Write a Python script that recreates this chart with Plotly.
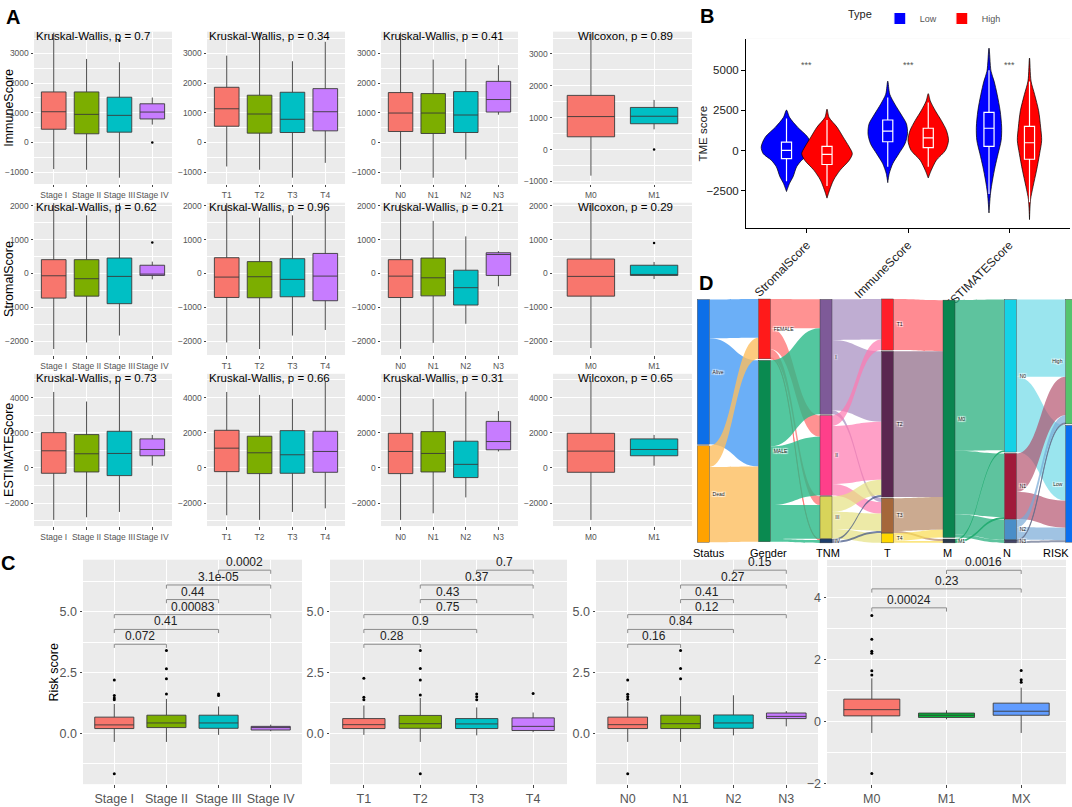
import plotly.graph_objects as go

W, H = 1072, 807
FONT = "Liberation Sans, Arial, sans-serif"

# ---------------- panel A : box summaries [lower whisker, q1, median, q3, upper whisker]
stage_cats = ["Stage I", "Stage II", "Stage III", "Stage IV"]
t_cats = ["T1", "T2", "T3", "T4"]
n_cats = ["N0", "N1", "N2", "N3"]
m_cats = ["M0", "M1"]

immune_stage = [[-900, 443, 1033, 1700, 3700], [-922, 290, 944, 1700, 2810],
                [-1190, 344, 911, 1522, 2700], [600, 789, 1022, 1300, 1511]]
immune_t = [[-811, 544, 1133, 1856, 2922], [-922, 311, 956, 1589, 3700],
            [-1190, 333, 778, 1689, 2733], [-689, 389, 1033, 1811, 3389]]
immune_n = [[-922, 367, 989, 1678, 3700], [-1190, 300, 989, 1644, 2789],
            [-578, 333, 922, 1711, 2810], [933, 1022, 1444, 2056, 2600]]
immune_m = [[-820, 400, 1035, 1700, 3650], [635, 810, 1045, 1322, 1557]]

stromal_stage = [[-2233, -728, -68, 408, 2080], [-2039, -670, -155, 408, 1718],
                 [-1835, -893, -87, 456, 2080], [-175, -58, -19, 243, 350]]
stromal_t = [[-2039, -709, -107, 466, 2080], [-2233, -718, -97, 350, 1650],
             [-1835, -689, -175, 437, 1718], [-1670, -806, -78, 592, 1845]]
stromal_n = [[-2227, -711, -79, 408, 2080], [-2052, -662, -128, 455, 1554],
             [-1487, -933, -420, 96, 1096], [-379, -58, 560, 612, 659]]
stromal_m = [[-2204, -670, -87, 427, 2080], [-165, -58, -29, 243, 340]]

estimate_stage = [[-2948, -300, 977, 2009, 4319], [-2798, -225, 808, 1897, 3775],
                  [-2498, -432, 826, 2085, 4940], [131, 695, 1052, 1653, 1878]]
estimate_t = [[-2685, -207, 1127, 2141, 4319], [-2948, -319, 864, 1803, 4150],
              [-2498, -300, 751, 2122, 3925], [-2291, -244, 939, 2085, 4920]]
estimate_n = [[-2948, -319, 939, 1972, 5030], [-2573, -225, 826, 2066, 3925],
              [-1671, -545, 207, 1521, 4338], [939, 1033, 1502, 2648, 3230]]
estimate_m = [[-2948, -244, 958, 1972, 4940], [131, 695, 1052, 1653, 1878]]

# outliers (category, value)
immune_stage_out = [("Stage III", 3420), ("Stage IV", 0)]
immune_m_out = [("M1", 0)]
stromal_stage_out = [("Stage IV", 913)]
stromal_m_out = [("M1", 903)]

immune_tests = ["Kruskal-Wallis, p = 0.7", "Kruskal-Wallis, p = 0.34",
                "Kruskal-Wallis, p = 0.41", "Wilcoxon, p = 0.89"]
stromal_tests = ["Kruskal-Wallis, p = 0.62", "Kruskal-Wallis, p = 0.96",
                 "Kruskal-Wallis, p = 0.21", "Wilcoxon, p = 0.29"]
estimate_tests = ["Kruskal-Wallis, p = 0.73", "Kruskal-Wallis, p = 0.66",
                  "Kruskal-Wallis, p = 0.31", "Wilcoxon, p = 0.65"]

# ---------------- panel B : violin outlines (value, half width) and inner boxes
b_cats = ["StromalScore", "ImmuneScore", "ESTIMATEScore"]
stromal_low_v = [2520, 2070, 1455, 840, 225, -184, -594, -1004, -1619, -2029, -2540]
stromal_low_w = [0, 0.03, 0.11, 0.21, 0.25, 0.23, 0.15, 0.10, 0.065, 0.03, 0]
stromal_high_v = [2580, 2070, 1455, 840, 225, -184, -594, -1209, -1824, -2438, -2950]
stromal_high_w = [0, 0.02, 0.10, 0.16, 0.22, 0.25, 0.22, 0.13, 0.065, 0.026, 0]
immune_low_v = [4324, 3504, 2889, 2275, 1660, 1045, 430, -184, -799, -1414, -1988]
immune_low_w = [0, 0.02, 0.07, 0.13, 0.185, 0.195, 0.17, 0.11, 0.05, 0.015, 0]
immune_high_v = [3545, 3094, 2480, 1865, 1250, 635, 20, -594, -1209, -1700]
immune_high_w = [0, 0.02, 0.07, 0.13, 0.18, 0.20, 0.17, 0.08, 0.03, 0]
estimate_low_v = [6373, 4939, 4324, 3504, 2480, 1455, 635, -184, -1004, -1824, -2643, -3873]
estimate_low_w = [0, 0.02, 0.05, 0.08, 0.11, 0.125, 0.12, 0.09, 0.06, 0.035, 0.015, 0]
estimate_high_v = [5758, 4324, 3504, 2480, 1455, 635, -184, -1209, -2234, -3053, -4283]
estimate_high_w = [0, 0.015, 0.05, 0.09, 0.11, 0.12, 0.10, 0.07, 0.035, 0.01, 0]

low_boxes = [[-1900, -492, 20, 533, 2000], [-1000, 553, 1209, 1906, 3300], [-2700, 266, 1393, 2377, 5000]]
high_boxes = [[-2200, -861, -225, 266, 1900], [-1000, 184, 799, 1393, 3000], [-3200, -533, 492, 1516, 4300]]
b_signif = ["***", "***", "***"]
b_signif_y = 5350

# ---------------- panel C : risk score
m3_cats = ["M0", "M1", "MX"]
risk_stage = [[-0.36, 0.19, 0.34, 0.66, 1.20], [-0.36, 0.23, 0.42, 0.74, 1.41],
              [-0.07, 0.20, 0.42, 0.74, 1.10], [0.08, 0.13, 0.23, 0.28, 0.35]]
risk_t = [[-0.07, 0.19, 0.35, 0.60, 1.14], [-0.36, 0.20, 0.39, 0.73, 1.45],
          [-0.09, 0.19, 0.38, 0.60, 1.06], [0.04, 0.11, 0.28, 0.63, 0.85]]
risk_n = [[-0.36, 0.19, 0.35, 0.66, 1.29], [-0.36, 0.19, 0.39, 0.74, 1.52],
          [-0.09, 0.20, 0.42, 0.75, 1.56], [0.28, 0.60, 0.69, 0.83, 0.91]]
risk_m = [[-0.37, 0.18, 0.38, 0.72, 1.39], [0.07, 0.13, 0.20, 0.27, 0.36],
          [-0.37, 0.20, 0.33, 0.59, 1.09]]

risk_stage_out = [("Stage I", 2.19), ("Stage I", 1.55), ("Stage I", 1.45), ("Stage I", 1.38),
                  ("Stage I", -1.67), ("Stage II", 3.40), ("Stage II", 2.65), ("Stage II", 2.24),
                  ("Stage II", 1.61), ("Stage III", 1.61), ("Stage III", 1.55)]
risk_t_out = [("T1", 2.26), ("T1", 1.48), ("T1", 1.38), ("T2", 3.40), ("T2", 2.66), ("T2", 2.19),
              ("T2", 1.57), ("T2", -1.67), ("T3", 1.61), ("T3", 1.50), ("T3", 1.38), ("T4", 1.63)]
risk_n_out = [("N0", 2.19), ("N0", 1.60), ("N0", 1.50), ("N0", 1.40), ("N0", -1.67),
              ("N1", 3.40), ("N1", 2.66), ("N1", 2.24)]
risk_m_out = [("M0", 3.41), ("M0", 2.65), ("M0", 2.26), ("M0", 2.20), ("M0", 1.63), ("M0", 1.50),
              ("M0", -1.68), ("MX", 1.64), ("MX", 1.34), ("MX", 1.26)]

# brackets: (first index, second index, height, label)
stage_pairs = [(0, 1, 3.66, "0.072"), (0, 2, 4.27, "0.41"), (0, 3, 4.88, "0.00083"),
               (1, 2, 5.50, "0.44"), (1, 3, 6.10, "3.1e-05"), (2, 3, 6.71, "0.0002")]
t_pairs = [(0, 1, 3.66, "0.28"), (0, 2, 4.27, "0.9"), (0, 3, 4.88, "0.75"),
           (1, 2, 5.50, "0.43"), (1, 3, 6.10, "0.37"), (2, 3, 6.71, "0.7")]
n_pairs = [(0, 1, 3.66, "0.16"), (0, 2, 4.27, "0.84"), (0, 3, 4.88, "0.12"),
           (1, 2, 5.50, "0.41"), (1, 3, 6.10, "0.27"), (2, 3, 6.71, "0.15")]
m_pairs = [(0, 1, 3.66, "0.00024"), (0, 2, 4.27, "0.23"), (1, 2, 4.87, "0.0016")]

# ---------------- panel D : alluvial flows
sankey_labels = ["Alive", "Dead", "FEMALE", "MALE", "I", "II", "III", "IV",
                 "T1", "T2", "T3", "T4", "M0", "M1", "N0", "N1", "N2", "N3", "High", "Low"]
sankey_column = [0, 0, 1, 1, 2, 2, 2, 2, 3, 3, 3, 3, 4, 4, 5, 5, 5, 5, 6, 6]
sankey_axis_names = ["Status", "Gender", "TNM", "T", "M", "N", "RISK"]
sankey_node_colors = ["#0d6fe8", "#ffa200", "#ff1a1a", "#0a8a50", "#7e5a98", "#ff3f8a", "#d8d45a",
                      "#1d3d6b", "#ff1f2a", "#5a2750", "#a5673a", "#ffd700", "#0a8550", "#2a3a4a",
                      "#14d2e6", "#a01a3a", "#4a8ec8", "#444466", "#55c46e", "#0a6ff0"]
sankey_link_colors = ["rgba(70,155,245,0.8)", "rgba(252,190,95,0.8)", "rgba(255,110,110,0.75)",
                      "rgba(40,185,135,0.8)", "rgba(170,145,195,0.75)", "rgba(255,120,175,0.7)",
                      "rgba(230,225,130,0.7)", "rgba(60,80,130,0.7)", "rgba(255,100,110,0.75)",
                      "rgba(120,75,110,0.6)", "rgba(175,125,85,0.65)", "rgba(250,220,80,0.7)",
                      "rgba(40,175,125,0.75)", "rgba(30,170,110,0.9)", "rgba(120,220,232,0.75)",
                      "rgba(175,70,100,0.65)", "rgba(120,170,215,0.7)", "rgba(100,110,140,0.7)",
                      "rgba(0,0,0,0)", "rgba(0,0,0,0)"]
link_source = [0, 0, 1, 1,
               2, 2, 2, 2, 3, 3, 3, 3,
               4, 4, 4, 5, 5, 5, 6, 6, 6, 7, 7,
               8, 9, 10, 10, 11, 11,
               12, 12, 12, 12, 13, 13,
               14, 14, 15, 15, 16, 16, 17, 17]
link_target = [2, 3, 2, 3,
               4, 5, 6, 7, 4, 5, 6, 7,
               8, 9, 10, 8, 9, 10, 9, 10, 11, 9, 10,
               12, 12, 12, 13, 12, 13,
               14, 15, 16, 17, 14, 15,
               18, 19, 18, 19, 18, 19, 18, 19]
link_value = [40, 110, 22, 78,
              30, 22, 9, 1, 89, 61, 35, 3,
              42, 73, 4, 11, 60, 12, 16, 18, 10, 2, 2,
              53, 151, 34, 2, 8, 2,
              156, 66, 21, 3, 2, 2,
              80, 78, 40, 28, 8, 13, 1, 2]

hue4 = ["#F8766D", "#7CAE00", "#00BFC4", "#C77CFF"]
hue2 = ["#F8766D", "#00BFC4"]
hue3 = ["#F8766D", "#00BA38", "#619CFF"]

fig = go.Figure()
layout = {}
annotations = []
shapes = []


def ids(k):
    return ("x", "y") if k == 1 else (f"x{k}", f"y{k}")


def axkeys(k):
    return ("xaxis", "yaxis") if k == 1 else (f"xaxis{k}", f"yaxis{k}")


def note(text, x, y, size, color="black", angle=0, xa="center", ya="middle"):
    annotations.append(dict(text=text, x=x / W, y=1 - y / H, xref="paper", yref="paper",
                            xanchor=xa, yanchor=ya, textangle=angle, showarrow=False,
                            font=dict(size=size, color=color)))


def gg_axes(k, cats, box_px, yrange, dtick, fsize, yfmt=None):
    x0, x1, y0, y1 = box_px
    xa, ya = axkeys(k)
    xr, yr = ids(k)
    layout[xa] = dict(domain=[x0 / W, x1 / W], anchor=yr, type="category",
                      categoryorder="array", categoryarray=cats, tickangle=0,
                      range=[-0.6, len(cats) - 0.4], showgrid=True, gridcolor="white",
                      gridwidth=1.1, zeroline=False, ticks="outside", ticklen=2.5,
                      tickcolor="#444", tickfont=dict(size=fsize, color="#555"), fixedrange=True)
    layout[ya] = dict(domain=[1 - y1 / H, 1 - y0 / H], anchor=xr, range=yrange,
                      tick0=0, dtick=dtick, showgrid=True, gridcolor="white", gridwidth=1.1,
                      zeroline=False, ticks="outside", ticklen=2.5, tickcolor="#444",
                      tickfont=dict(size=fsize, color="#555"), tickformat=yfmt,
                      minor=dict(dtick=dtick / 2, tick0=0, showgrid=True, gridcolor="white",
                                 gridwidth=0.5, ticks=""),
                      fixedrange=True)


def add_boxes(k, cats, boxes, colors, outliers, msize=2.5):
    xr, yr = ids(k)
    for cat, b, col in zip(cats, boxes, colors):
        fig.add_trace(go.Box(x=[cat], lowerfence=[b[0]], q1=[b[1]], median=[b[2]], q3=[b[3]],
                             upperfence=[b[4]], width=0.75, whiskerwidth=0, fillcolor=col,
                             line=dict(color="#3a3a3a", width=0.9), boxpoints=False,
                             xaxis=xr, yaxis=yr, showlegend=False, hoverinfo="skip"))
    if outliers:
        fig.add_trace(go.Scatter(x=[o[0] for o in outliers], y=[o[1] for o in outliers],
                                 mode="markers", marker=dict(color="black", size=msize),
                                 xaxis=xr, yaxis=yr, showlegend=False, hoverinfo="skip"))


# ---------------- build panel A
a_cols_px = [(34, 172), (207, 345), (381, 518), (553, 692)]
a_rows_px = [(30, 184), (203, 357), (376, 530)]
a_rows = [
    ("ImmuneScore", [immune_stage, immune_t, immune_n, immune_m],
     [immune_stage_out, [], [], immune_m_out], immune_tests,
     [[-1400, 3730]] * 3 + [[-1080, 3700]], 1000),
    ("StromalScore", [stromal_stage, stromal_t, stromal_n, stromal_m],
     [stromal_stage_out, [], [], stromal_m_out], stromal_tests, [[-2410, 2090]] * 4, 1000),
    ("ESTIMATEScore", [estimate_stage, estimate_t, estimate_n, estimate_m],
     [[], [], [], []], estimate_tests, [[-3300, 5350]] * 4, 2000),
]
a_cats = [stage_cats, t_cats, n_cats, m_cats]
a_colors = [hue4, hue4, hue4, hue2]

k = 0
for r, (title, boxes_list, outs, tests, ranges, dt) in enumerate(a_rows):
    ry0, ry1 = a_rows_px[r]
    for c in range(4):
        k += 1
        cx0, cx1 = a_cols_px[c]
        gg_axes(k, a_cats[c], (cx0, cx1, ry0, ry1), ranges[c], dt, 8.5)
        add_boxes(k, a_cats[c], boxes_list[c], a_colors[c], outs[c], 2.5)
        note(tests[c], cx0 if c < 3 else 576, ry0 + 4.5, 11.5, xa="left")
    note(title, 9, (ry0 + ry1) / 2, 12.5, angle=-90)

# ---------------- build panel B
bx0, bx1, by0, by1 = 746, 1070, 37, 229
b_xrange = [-0.6, 2.6]
b_yrange = [-4834, 6966]
layout["xaxis13"] = dict(domain=[bx0 / W, bx1 / W], anchor="y13", range=b_xrange,
                         tickvals=[0, 1, 2], ticktext=b_cats, tickangle=-45, showgrid=False,
                         zeroline=False, showline=True, linecolor="black", linewidth=1,
                         ticks="outside", ticklen=4, tickcolor="black",
                         tickfont=dict(size=12, color="#222"), fixedrange=True)
layout["yaxis13"] = dict(domain=[1 - by1 / H, 1 - by0 / H], anchor="x13", range=b_yrange,
                         tickvals=[-2500, 0, 2500, 5000], showgrid=False, zeroline=False,
                         showline=True, linecolor="black", linewidth=1, ticks="outside",
                         ticklen=4, tickcolor="black", tickfont=dict(size=11.5, color="#222"),
                         fixedrange=True)
# overlay pair so the inner boxes sit above the violin fills
layout["xaxis18"] = dict(overlaying="x13", anchor="y18", range=b_xrange, visible=False,
                         fixedrange=True)
layout["yaxis18"] = dict(overlaying="y13", anchor="x18", range=b_yrange, visible=False,
                         fixedrange=True)
shapes.append(dict(type="rect", xref="x13 domain", yref="y13 domain", x0=0, x1=1, y0=0, y1=1,
                   fillcolor="white", line=dict(width=0), layer="below"))
note("TME score", 703, 133, 11.5, color="#222", angle=-90)

violins = [(0, -0.2, stromal_low_v, stromal_low_w, "#0000FF"),
           (0, 0.2, stromal_high_v, stromal_high_w, "#FF0000"),
           (1, -0.2, immune_low_v, immune_low_w, "#0000FF"),
           (1, 0.2, immune_high_v, immune_high_w, "#FF0000"),
           (2, -0.2, estimate_low_v, estimate_low_w, "#0000FF"),
           (2, 0.2, estimate_high_v, estimate_high_w, "#FF0000")]
for ci, off, vals, widths, col in violins:
    xc = ci + off
    xs = [xc - w for w in widths] + [xc + w for w in reversed(widths)]
    ys = list(vals) + list(reversed(vals))
    fig.add_trace(go.Scatter(x=xs, y=ys, mode="lines", fill="toself", fillcolor=col,
                             line=dict(color="black", width=0.7, shape="spline", smoothing=0.8),
                             xaxis="x13", yaxis="y13", showlegend=False, hoverinfo="skip"))

for i in range(3):
    for off, b, col, name in [(-0.2, low_boxes[i], "#0000FF", "Low"),
                              (0.2, high_boxes[i], "#FF0000", "High")]:
        fig.add_trace(go.Box(x=[i + off], lowerfence=[b[0]], q1=[b[1]], median=[b[2]], q3=[b[3]],
                             upperfence=[b[4]], width=0.1, whiskerwidth=0, fillcolor=col,
                             line=dict(color="white", width=1.2), boxpoints=False,
                             xaxis="x18", yaxis="y18", name=name, legendgroup=name,
                             showlegend=(i == 0), hoverinfo="skip"))
    annotations.append(dict(text=b_signif[i], x=i, y=b_signif_y, xref="x13", yref="y13",
                            xanchor="center", yanchor="middle", showarrow=False,
                            font=dict(size=9, color="#555")))

# ---------------- build panel C
c_cols_px = [(83, 302), (330, 567), (596, 818), (827, 1066)]
cy0, cy1 = 564, 791
c_panels = [(stage_cats, risk_stage, hue4, risk_stage_out, stage_pairs, [-2.1, 7.14], 2.5, 0.15),
            (t_cats, risk_t, hue4, risk_t_out, t_pairs, [-2.1, 7.14], 2.5, 0.15),
            (n_cats, risk_n, hue4, risk_n_out, n_pairs, [-2.1, 7.14], 2.5, 0.15),
            (m3_cats, risk_m, hue3, risk_m_out, m_pairs, [-2.02, 5.21], 2, 0.12)]
for j, (cats, boxes, cols, outs, pairs, yr, dt, tick) in enumerate(c_panels):
    kc = 14 + j
    x0, x1 = c_cols_px[j]
    gg_axes(kc, cats, (x0, x1, cy0, cy1), yr, dt, 12.5, ".1f" if dt == 2.5 else None)
    add_boxes(kc, cats, boxes, cols, outs, 3)
    xr, yrr = ids(kc)
    for a, b, h, lab in pairs:
        fig.add_trace(go.Scatter(x=[cats[a], cats[a], cats[b], cats[b]],
                                 y=[h - tick, h, h, h - tick], mode="lines",
                                 line=dict(color="#8c8c8c", width=1), xaxis=xr, yaxis=yrr,
                                 showlegend=False, hoverinfo="skip"))
        annotations.append(dict(text=lab, x=(a + b) / 2, y=h, xref=xr, yref=yrr,
                                xanchor="center", yanchor="bottom", showarrow=False, yshift=-1,
                                font=dict(size=12, color="#222")))
note("Risk score", 54, 678, 12.5, angle=-90)

# ---------------- build panel D
dx0, dx1, dy0, dy1 = 703, 1072, 300, 547
thick = 12
node_total = [0] * len(sankey_labels)
for s, t, v in zip(link_source, link_target, link_value):
    node_total[s] += v
for i in range(len(sankey_labels)):
    incoming = sum(v for t, v in zip(link_target, link_value) if t == i)
    node_total[i] = max(node_total[i], incoming)
grand = sum(node_total[i] for i in range(len(sankey_labels)) if sankey_column[i] == 0)
node_x, node_y, cum = [], [], {}
for i, c in enumerate(sankey_column):
    start = cum.get(c, 0)
    node_y.append((start + node_total[i] / 2) / grand)
    cum[c] = start + node_total[i]
    node_x.append(min(max(c / 6, 0.001), 0.999))

fig.add_trace(go.Sankey(
    domain=dict(x=[dx0 / W, dx1 / W], y=[1 - dy1 / H, 1 - dy0 / H]),
    arrangement="fixed",
    node=dict(label=sankey_labels, color=sankey_node_colors, x=node_x, y=node_y, pad=1,
              thickness=thick, line=dict(color="#333", width=0.4)),
    link=dict(source=link_source, target=link_target, value=link_value,
              color=[sankey_link_colors[s] for s in link_source]),
    textfont=dict(size=5, color="#222", family=FONT),
    hoverinfo="skip"))

for c, name in enumerate(sankey_axis_names):
    cxp = dx0 + c / 6 * (dx1 - dx0 - thick) + thick / 2
    note(name, min(cxp, W - 16), 557, 11)

# panel letters
for letter, lx, ly in [("A", 13, 15), ("B", 707, 14), ("C", 8, 567), ("D", 706, 284)]:
    note(f"<b>{letter}</b>", lx, ly, 20)

fig.update_layout(**layout)
fig.update_layout(
    width=W, height=H, margin=dict(l=0, r=0, t=0, b=0), autosize=False,
    paper_bgcolor="white", plot_bgcolor="#EBEBEB",
    font=dict(family=FONT, color="black"),
    annotations=annotations, shapes=shapes, boxmode="overlay",
    showlegend=True,
    legend=dict(orientation="h", x=846 / W, y=1 - 2 / H, xanchor="left", yanchor="top",
                title=dict(text="Type", font=dict(size=11, color="#222")),
                font=dict(size=9, color="#555"), bgcolor="rgba(0,0,0,0)",
                itemwidth=30, tracegroupgap=0),
)

# drop the page's default body margin so the figure starts at the window corner
fig.write_html("out.html", config={"displayModeBar": False},
               post_script="document.body.style.margin='0px';")
